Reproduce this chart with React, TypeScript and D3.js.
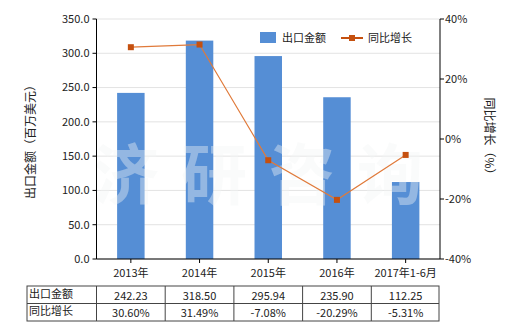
import React from "react";
import * as d3 from "d3";

const categories = ["2013年", "2014年", "2015年", "2016年", "2017年1-6月"];
const exportValues = [242.23, 318.5, 295.94, 235.9, 112.25];
const growthValues = [30.6, 31.49, -7.08, -20.29, -5.31];
const exportLabels = ["242.23", "318.50", "295.94", "235.90", "112.25"];
const growthLabels = ["30.60%", "31.49%", "-7.08%", "-20.29%", "-5.31%"];
const leftTicks = [0, 50, 100, 150, 200, 250, 300, 350];
const rightTicks = [-40, -20, 0, 20, 40];
const seriesNames = ["出口金额", "同比增长"];

const W = 520;
const H = 330;
const M = { left: 96.5, right: 440, top: 19, bottom: 259 };
const FONT = "'Noto Sans CJK SC', 'Noto Sans', sans-serif";
const BAR = "#558ed5";
const LINE = "#e07a3a";
const MARK = "#c5500f";

export default function App() {
  const x = d3.scaleBand<string>().domain(categories).range([M.left, M.right]).paddingInner(0).paddingOuter(0);
  const yL = d3.scaleLinear().domain([0, 350]).range([M.bottom, M.top]);
  const yR = d3.scaleLinear().domain([-40, 40]).range([M.bottom, M.top]);
  const bw = x.bandwidth() * 0.4;
  const cx = (c: string) => (x(c) as number) + x.bandwidth() / 2;
  const line = d3
    .line<number>()
    .x((_, i) => cx(categories[i]))
    .y((d) => yR(d));

  const tableLeft = 27;
  const tableTop = 286;
  const rowH = 17.5;
  const colX = [tableLeft, ...categories.map((c) => x(c) as number), M.right - 1];

  return (
    <svg width={W} height={H} style={{ position: "absolute", left: 0, top: 0, background: "#fff" }} fontFamily={FONT}>
      {/* gridlines */}
      {leftTicks.map((t) => (
        <line key={"g" + t} x1={M.left} x2={M.right} y1={yL(t)} y2={yL(t)} stroke="#e3e3e3" strokeWidth={1} />
      ))}
      {/* bars */}
      {categories.map((c, i) => (
        <rect key={"b" + c} x={cx(c) - bw / 2} y={yL(exportValues[i])} width={bw} height={yL(0) - yL(exportValues[i])} fill={BAR} />
      ))}
      {/* watermark */}
      <text x={93} y={199} fontSize={66} fontWeight="bold" fill="#f2f6f6" fillOpacity={0.4} letterSpacing={22} fontFamily={FONT}>
        济研咨询
      </text>
      {/* line */}
      <path d={line(growthValues) || ""} fill="none" stroke={LINE} strokeWidth={1.2} />
      {growthValues.map((v, i) => (
        <rect key={"m" + i} x={cx(categories[i]) - 3} y={yR(v) - 3} width={6} height={6} fill={MARK} />
      ))}
      {/* left axis */}
      <line x1={M.left} x2={M.left} y1={M.top} y2={M.bottom} stroke="#000" />
      {leftTicks.map((t) => (
        <g key={"l" + t}>
          <line x1={M.left - 4} x2={M.left} y1={yL(t)} y2={yL(t)} stroke="#000" />
          <text x={M.left - 7} y={yL(t)} dy="0.35em" textAnchor="end" fontSize={11} fill="#222">
            {t.toFixed(1)}
          </text>
        </g>
      ))}
      {/* right axis */}
      <line x1={M.right} x2={M.right} y1={M.top} y2={M.bottom} stroke="#000" />
      {rightTicks.map((t) => (
        <g key={"r" + t}>
          <line x1={M.right} x2={M.right + 4} y1={yR(t)} y2={yR(t)} stroke="#000" />
          <text x={M.right + 5} y={yR(t)} dy="0.35em" textAnchor="start" fontSize={11} fill="#222">
            {t + "%"}
          </text>
        </g>
      ))}
      {/* bottom axis */}
      <line x1={M.left} x2={M.right} y1={M.bottom} y2={M.bottom} stroke="#000" />
      {categories.map((c) => (
        <g key={"x" + c}>
          <line x1={cx(c)} x2={cx(c)} y1={M.bottom} y2={M.bottom + 4} stroke="#000" />
          <text x={cx(c)} y={273} dy="0.35em" textAnchor="middle" fontSize={11} fill="#222">
            {c}
          </text>
        </g>
      ))}
      {/* axis titles */}
      <text transform={`translate(31,${(M.top + M.bottom) / 2}) rotate(-90)`} textAnchor="middle" dy="0.35em" fontSize={12} fill="#222">
        出口金额（百万美元）
      </text>
      <text transform={`translate(489,${(M.top + M.bottom) / 2}) rotate(90)`} textAnchor="middle" dy="0.35em" fontSize={12} fill="#222">
        同比增长（%）
      </text>
      {/* legend */}
      <rect x={260} y={32} width={16} height={11} fill={BAR} />
      <text x={282} y={38} dy="0.35em" fontSize={11} fill="#222">
        {seriesNames[0]}
      </text>
      <line x1={341} x2={363} y1={38} y2={38} stroke={MARK} strokeWidth={2} />
      <rect x={349} y={35} width={6} height={6} fill={MARK} />
      <text x={368} y={38} dy="0.35em" fontSize={11} fill="#222">
        {seriesNames[1]}
      </text>
      {/* table */}
      <g stroke="#444" strokeWidth={1} fill="none">
        <rect x={tableLeft} y={tableTop} width={M.right - 1 - tableLeft} height={rowH * 2} />
        <line x1={tableLeft} x2={M.right - 1} y1={tableTop + rowH} y2={tableTop + rowH} />
        {colX.slice(1, -1).map((cxv, i) => (
          <line key={"c" + i} x1={cxv} x2={cxv} y1={tableTop} y2={tableTop + rowH * 2} />
        ))}
      </g>
      <text x={tableLeft + 2} y={tableTop + rowH / 2 - 1} dy="0.35em" fontSize={11} fill="#222">
        {seriesNames[0]}
      </text>
      <text x={tableLeft + 2} y={tableTop + rowH * 1.5 - 1} dy="0.35em" fontSize={11} fill="#222">
        {seriesNames[1]}
      </text>
      {categories.map((c, i) => (
        <g key={"t" + c}>
          <text x={cx(c)} y={tableTop + rowH / 2 + 1} dy="0.35em" textAnchor="middle" fontSize={11} fill="#222">
            {exportLabels[i]}
          </text>
          <text x={cx(c)} y={tableTop + rowH * 1.5 + 1} dy="0.35em" textAnchor="middle" fontSize={11} fill="#222">
            {growthLabels[i]}
          </text>
        </g>
      ))}
    </svg>
  );
}
